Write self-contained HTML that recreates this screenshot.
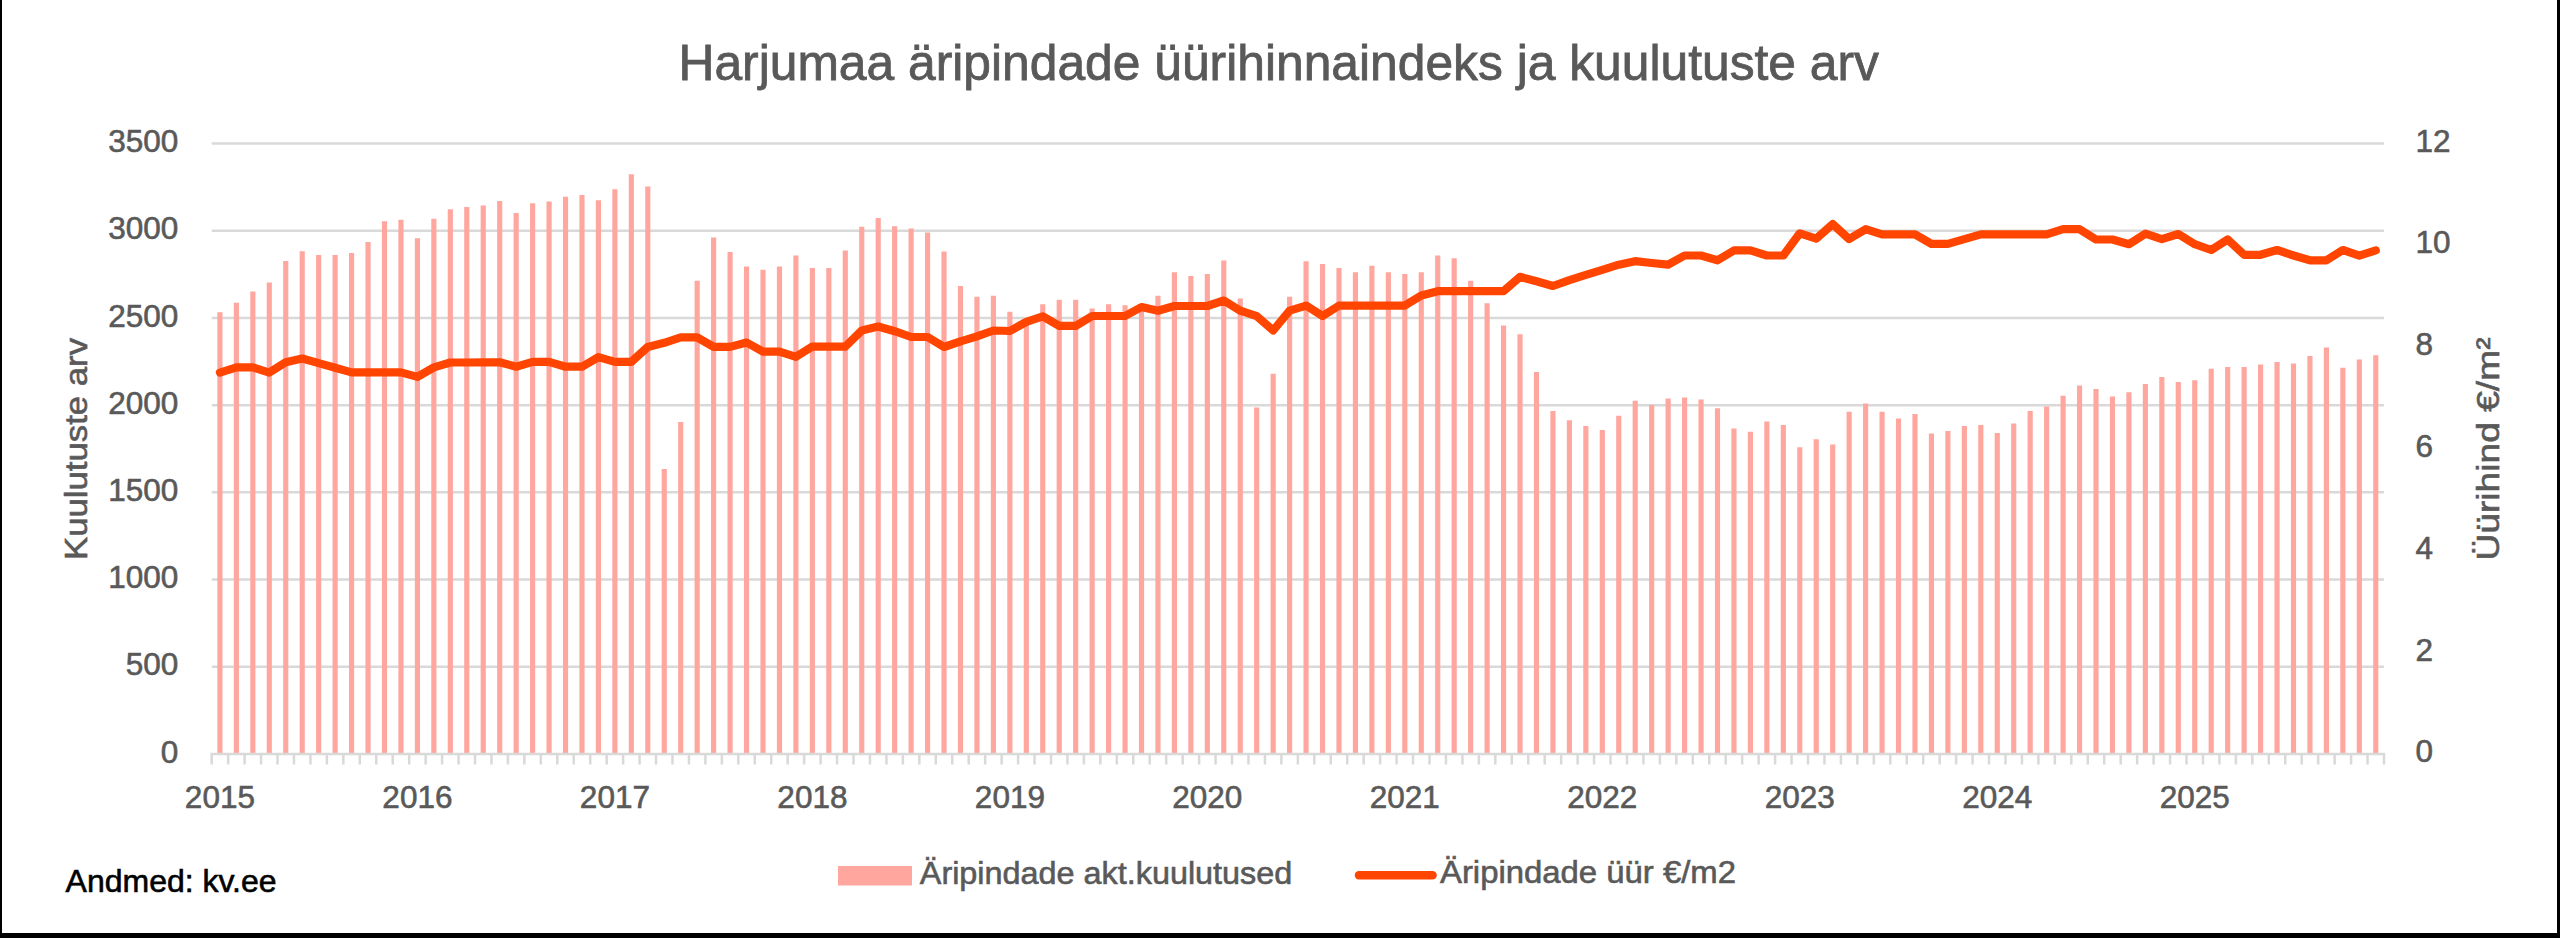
<!DOCTYPE html>
<html><head><meta charset="utf-8"><style>
html,body{margin:0;padding:0;background:#fff;}
body{width:2560px;height:938px;overflow:hidden;position:relative;}
svg{position:absolute;left:0;top:0;}
text{font-family:"Liberation Sans", sans-serif;} .t{stroke-width:1;}
</style></head><body>
<svg width="2560" height="938" viewBox="0 0 2560 938">
<rect x="0" y="0" width="2560" height="938" fill="#fff"/>

<line x1="211.7" y1="143.50" x2="2384.0" y2="143.50" stroke="#D9D9D9" stroke-width="2.5"/>
<line x1="211.7" y1="230.71" x2="2384.0" y2="230.71" stroke="#D9D9D9" stroke-width="2.5"/>
<line x1="211.7" y1="317.93" x2="2384.0" y2="317.93" stroke="#D9D9D9" stroke-width="2.5"/>
<line x1="211.7" y1="405.14" x2="2384.0" y2="405.14" stroke="#D9D9D9" stroke-width="2.5"/>
<line x1="211.7" y1="492.36" x2="2384.0" y2="492.36" stroke="#D9D9D9" stroke-width="2.5"/>
<line x1="211.7" y1="579.57" x2="2384.0" y2="579.57" stroke="#D9D9D9" stroke-width="2.5"/>
<line x1="211.7" y1="666.79" x2="2384.0" y2="666.79" stroke="#D9D9D9" stroke-width="2.5"/>
<path d="M217.35 312.2H222.50V753H217.35ZM233.81 302.7H238.96V753H233.81ZM250.27 291.6H255.42V753H250.27ZM266.72 282.4H271.87V753H266.72ZM283.18 260.9H288.33V753H283.18ZM299.64 251.3H304.79V753H299.64ZM316.09 254.9H321.24V753H316.09ZM332.55 254.9H337.70V753H332.55ZM349.01 253.1H354.16V753H349.01ZM365.46 242.1H370.61V753H365.46ZM381.92 221.2H387.07V753H381.92ZM398.38 219.7H403.53V753H398.38ZM414.84 238.2H419.99V753H414.84ZM431.29 218.8H436.44V753H431.29ZM447.75 209.3H452.90V753H447.75ZM464.21 206.9H469.36V753H464.21ZM480.66 205.4H485.81V753H480.66ZM497.12 200.9H502.27V753H497.12ZM513.58 212.9H518.73V753H513.58ZM530.03 203.3H535.18V753H530.03ZM546.49 201.6H551.64V753H546.49ZM562.95 196.8H568.10V753H562.95ZM579.40 195.1H584.55V753H579.40ZM595.86 200.2H601.01V753H595.86ZM612.32 189.3H617.47V753H612.32ZM628.77 174.3H633.92V753H628.77ZM645.23 186.6H650.38V753H645.23ZM661.69 469.0H666.84V753H661.69ZM678.14 421.9H683.29V753H678.14ZM694.60 280.7H699.75V753H694.60ZM711.06 237.4H716.21V753H711.06ZM727.51 252.1H732.66V753H727.51ZM743.97 266.4H749.12V753H743.97ZM760.43 269.8H765.58V753H760.43ZM776.89 266.4H782.04V753H776.89ZM793.34 255.5H798.49V753H793.34ZM809.80 268.1H814.95V753H809.80ZM826.26 268.1H831.41V753H826.26ZM842.71 250.4H847.86V753H842.71ZM859.17 226.8H864.32V753H859.17ZM875.63 218.0H880.78V753H875.63ZM892.08 226.2H897.23V753H892.08ZM908.54 228.6H913.69V753H908.54ZM925.00 232.6H930.15V753H925.00ZM941.45 251.4H946.60V753H941.45ZM957.91 285.9H963.06V753H957.91ZM974.37 296.8H979.52V753H974.37ZM990.82 295.7H995.97V753H990.82ZM1007.28 311.8H1012.43V753H1007.28ZM1023.74 320.0H1028.89V753H1023.74ZM1040.19 304.3H1045.34V753H1040.19ZM1056.65 299.8H1061.80V753H1056.65ZM1073.11 299.8H1078.26V753H1073.11ZM1089.56 308.4H1094.71V753H1089.56ZM1106.02 304.3H1111.17V753H1106.02ZM1122.48 305.3H1127.63V753H1122.48ZM1138.94 306.0H1144.09V753H1138.94ZM1155.39 295.7H1160.54V753H1155.39ZM1171.85 272.2H1177.00V753H1171.85ZM1188.31 276.0H1193.46V753H1188.31ZM1204.76 273.9H1209.91V753H1204.76ZM1221.22 260.6H1226.37V753H1221.22ZM1237.68 298.5H1242.83V753H1237.68ZM1254.13 407.6H1259.28V753H1254.13ZM1270.59 373.8H1275.74V753H1270.59ZM1287.05 296.8H1292.20V753H1287.05ZM1303.50 261.3H1308.65V753H1303.50ZM1319.96 264.0H1325.11V753H1319.96ZM1336.42 268.1H1341.57V753H1336.42ZM1352.87 272.2H1358.02V753H1352.87ZM1369.33 265.7H1374.48V753H1369.33ZM1385.79 272.2H1390.94V753H1385.79ZM1402.24 273.9H1407.39V753H1402.24ZM1418.70 272.2H1423.85V753H1418.70ZM1435.16 255.5H1440.31V753H1435.16ZM1451.61 258.2H1456.76V753H1451.61ZM1468.07 280.7H1473.22V753H1468.07ZM1484.53 303.2H1489.68V753H1484.53ZM1500.99 325.4H1506.14V753H1500.99ZM1517.44 334.3H1522.59V753H1517.44ZM1533.90 372.1H1539.05V753H1533.90ZM1550.36 411.0H1555.51V753H1550.36ZM1566.81 420.2H1571.96V753H1566.81ZM1583.27 426.0H1588.42V753H1583.27ZM1599.73 430.1H1604.88V753H1599.73ZM1616.18 415.8H1621.33V753H1616.18ZM1632.64 400.8H1637.79V753H1632.64ZM1649.10 404.9H1654.25V753H1649.10ZM1665.55 398.4H1670.70V753H1665.55ZM1682.01 397.4H1687.16V753H1682.01ZM1698.47 399.4H1703.62V753H1698.47ZM1714.92 408.3H1720.07V753H1714.92ZM1731.38 428.4H1736.53V753H1731.38ZM1747.84 431.8H1752.99V753H1747.84ZM1764.29 421.6H1769.44V753H1764.29ZM1780.75 425.0H1785.90V753H1780.75ZM1797.21 447.2H1802.36V753H1797.21ZM1813.66 439.3H1818.81V753H1813.66ZM1830.12 444.4H1835.27V753H1830.12ZM1846.58 411.7H1851.73V753H1846.58ZM1863.04 403.5H1868.19V753H1863.04ZM1879.49 411.7H1884.64V753H1879.49ZM1895.95 418.5H1901.10V753H1895.95ZM1912.41 414.1H1917.56V753H1912.41ZM1928.86 433.5H1934.01V753H1928.86ZM1945.32 431.1H1950.47V753H1945.32ZM1961.78 426.0H1966.93V753H1961.78ZM1978.23 425.0H1983.38V753H1978.23ZM1994.69 432.9H1999.84V753H1994.69ZM2011.15 423.6H2016.30V753H2011.15ZM2027.60 411.0H2032.75V753H2027.60ZM2044.06 406.6H2049.21V753H2044.06ZM2060.52 395.7H2065.67V753H2060.52ZM2076.97 385.4H2082.12V753H2076.97ZM2093.43 388.9H2098.58V753H2093.43ZM2109.89 396.4H2115.04V753H2109.89ZM2126.34 392.3H2131.49V753H2126.34ZM2142.80 384.1H2147.95V753H2142.80ZM2159.26 376.9H2164.41V753H2159.26ZM2175.71 382.0H2180.86V753H2175.71ZM2192.17 380.3H2197.32V753H2192.17ZM2208.63 368.7H2213.78V753H2208.63ZM2225.09 367.0H2230.24V753H2225.09ZM2241.54 367.0H2246.69V753H2241.54ZM2258.00 364.6H2263.15V753H2258.00ZM2274.46 361.9H2279.61V753H2274.46ZM2290.91 363.6H2296.06V753H2290.91ZM2307.37 356.1H2312.52V753H2307.37ZM2323.83 347.6H2328.98V753H2323.83ZM2340.28 367.7H2345.43V753H2340.28ZM2356.74 359.5H2361.89V753H2356.74ZM2373.20 355.3H2378.35V753H2373.20Z" fill="#FFA69E"/>
<path d="M210.45 754.0H2385.25M211.70 752.75V764.4M228.16 752.75V764.4M244.61 752.75V764.4M261.07 752.75V764.4M277.53 752.75V764.4M293.98 752.75V764.4M310.44 752.75V764.4M326.90 752.75V764.4M343.35 752.75V764.4M359.81 752.75V764.4M376.27 752.75V764.4M392.73 752.75V764.4M409.18 752.75V764.4M425.64 752.75V764.4M442.10 752.75V764.4M458.55 752.75V764.4M475.01 752.75V764.4M491.47 752.75V764.4M507.92 752.75V764.4M524.38 752.75V764.4M540.84 752.75V764.4M557.29 752.75V764.4M573.75 752.75V764.4M590.21 752.75V764.4M606.66 752.75V764.4M623.12 752.75V764.4M639.58 752.75V764.4M656.03 752.75V764.4M672.49 752.75V764.4M688.95 752.75V764.4M705.40 752.75V764.4M721.86 752.75V764.4M738.32 752.75V764.4M754.78 752.75V764.4M771.23 752.75V764.4M787.69 752.75V764.4M804.15 752.75V764.4M820.60 752.75V764.4M837.06 752.75V764.4M853.52 752.75V764.4M869.97 752.75V764.4M886.43 752.75V764.4M902.89 752.75V764.4M919.34 752.75V764.4M935.80 752.75V764.4M952.26 752.75V764.4M968.71 752.75V764.4M985.17 752.75V764.4M1001.63 752.75V764.4M1018.08 752.75V764.4M1034.54 752.75V764.4M1051.00 752.75V764.4M1067.45 752.75V764.4M1083.91 752.75V764.4M1100.37 752.75V764.4M1116.83 752.75V764.4M1133.28 752.75V764.4M1149.74 752.75V764.4M1166.20 752.75V764.4M1182.65 752.75V764.4M1199.11 752.75V764.4M1215.57 752.75V764.4M1232.02 752.75V764.4M1248.48 752.75V764.4M1264.94 752.75V764.4M1281.39 752.75V764.4M1297.85 752.75V764.4M1314.31 752.75V764.4M1330.76 752.75V764.4M1347.22 752.75V764.4M1363.68 752.75V764.4M1380.13 752.75V764.4M1396.59 752.75V764.4M1413.05 752.75V764.4M1429.50 752.75V764.4M1445.96 752.75V764.4M1462.42 752.75V764.4M1478.88 752.75V764.4M1495.33 752.75V764.4M1511.79 752.75V764.4M1528.25 752.75V764.4M1544.70 752.75V764.4M1561.16 752.75V764.4M1577.62 752.75V764.4M1594.07 752.75V764.4M1610.53 752.75V764.4M1626.99 752.75V764.4M1643.44 752.75V764.4M1659.90 752.75V764.4M1676.36 752.75V764.4M1692.81 752.75V764.4M1709.27 752.75V764.4M1725.73 752.75V764.4M1742.18 752.75V764.4M1758.64 752.75V764.4M1775.10 752.75V764.4M1791.55 752.75V764.4M1808.01 752.75V764.4M1824.47 752.75V764.4M1840.92 752.75V764.4M1857.38 752.75V764.4M1873.84 752.75V764.4M1890.30 752.75V764.4M1906.75 752.75V764.4M1923.21 752.75V764.4M1939.67 752.75V764.4M1956.12 752.75V764.4M1972.58 752.75V764.4M1989.04 752.75V764.4M2005.49 752.75V764.4M2021.95 752.75V764.4M2038.41 752.75V764.4M2054.86 752.75V764.4M2071.32 752.75V764.4M2087.78 752.75V764.4M2104.23 752.75V764.4M2120.69 752.75V764.4M2137.15 752.75V764.4M2153.60 752.75V764.4M2170.06 752.75V764.4M2186.52 752.75V764.4M2202.97 752.75V764.4M2219.43 752.75V764.4M2235.89 752.75V764.4M2252.35 752.75V764.4M2268.80 752.75V764.4M2285.26 752.75V764.4M2301.72 752.75V764.4M2318.17 752.75V764.4M2334.63 752.75V764.4M2351.09 752.75V764.4M2367.54 752.75V764.4M2384.00 752.75V764.4" stroke="#D9D9D9" stroke-width="2.5" fill="none" stroke-linecap="butt"/>
<polyline points="219.93,372.6 236.39,367.4 252.84,367.4 269.30,372.6 285.76,362.3 302.21,358.5 318.67,363.1 335.13,367.7 351.58,372.4 368.04,372.4 384.50,372.4 400.95,372.4 417.41,376.9 433.87,367.4 450.32,362.5 466.78,362.5 483.24,362.3 499.69,362.3 516.15,366.7 532.61,361.9 549.06,361.9 565.52,366.7 581.98,366.7 598.44,357.1 614.89,361.9 631.35,361.9 647.81,346.9 664.26,342.8 680.72,337.4 697.18,337.4 713.63,346.9 730.09,346.9 746.55,342.5 763.00,351.7 779.46,351.7 795.92,356.8 812.37,346.6 828.83,346.6 845.29,346.6 861.74,330.5 878.20,326.5 894.66,331.2 911.11,337.0 927.57,337.0 944.03,347.0 960.49,341.4 976.94,336.3 993.40,330.5 1009.86,331.0 1026.31,321.8 1042.77,316.4 1059.23,325.9 1075.68,325.9 1092.14,316.0 1108.60,316.0 1125.05,316.0 1141.51,307.0 1157.97,310.7 1174.42,306.0 1190.88,306.0 1207.34,306.0 1223.79,300.5 1240.25,310.7 1256.71,316.2 1273.16,330.5 1289.62,310.7 1306.08,305.6 1322.54,315.9 1338.99,305.6 1355.45,305.6 1371.91,305.6 1388.36,305.6 1404.82,305.6 1421.28,295.5 1437.73,291.2 1454.19,291.2 1470.65,291.2 1487.10,291.2 1503.56,291.2 1520.02,276.8 1536.47,281.3 1552.93,286.0 1569.39,280.1 1585.84,274.9 1602.30,269.8 1618.76,264.7 1635.21,261.2 1651.67,263.0 1668.13,264.7 1684.59,255.5 1701.04,255.5 1717.50,260.3 1733.96,250.4 1750.41,250.4 1766.87,255.5 1783.33,255.5 1799.78,233.3 1816.24,238.6 1832.70,224.1 1849.15,239.1 1865.61,229.2 1882.07,234.4 1898.52,234.4 1914.98,234.4 1931.44,243.9 1947.89,243.9 1964.35,239.1 1980.81,234.4 1997.26,234.4 2013.72,234.4 2030.18,234.4 2046.64,234.4 2063.09,229.2 2079.55,229.2 2096.01,239.5 2112.46,239.5 2128.92,244.2 2145.38,233.7 2161.83,239.1 2178.29,234.0 2194.75,244.2 2211.20,250.0 2227.66,239.5 2244.12,254.8 2260.57,254.8 2277.03,250.0 2293.49,255.5 2309.94,260.3 2326.40,260.3 2342.86,250.0 2359.31,255.6 2375.77,250.4" fill="none" stroke="#FF4500" stroke-width="8.2" stroke-linejoin="round" stroke-linecap="round"/>
<text x="678.5" y="80" font-size="50" fill="#595959" stroke="#595959" stroke-width="0.8" textLength="1200.5" lengthAdjust="spacingAndGlyphs">Harjumaa äripindade üürihinnaindeks ja kuulutuste arv</text>
<text x="178.4" y="152.1" font-size="31.5" fill="#595959" stroke="#595959" stroke-width="0.6" text-anchor="end">3500</text>
<text x="178.4" y="239.3" font-size="31.5" fill="#595959" stroke="#595959" stroke-width="0.6" text-anchor="end">3000</text>
<text x="178.4" y="326.5" font-size="31.5" fill="#595959" stroke="#595959" stroke-width="0.6" text-anchor="end">2500</text>
<text x="178.4" y="413.7" font-size="31.5" fill="#595959" stroke="#595959" stroke-width="0.6" text-anchor="end">2000</text>
<text x="178.4" y="501.0" font-size="31.5" fill="#595959" stroke="#595959" stroke-width="0.6" text-anchor="end">1500</text>
<text x="178.4" y="588.2" font-size="31.5" fill="#595959" stroke="#595959" stroke-width="0.6" text-anchor="end">1000</text>
<text x="178.4" y="675.4" font-size="31.5" fill="#595959" stroke="#595959" stroke-width="0.6" text-anchor="end">500</text>
<text x="178.4" y="762.6" font-size="31.5" fill="#595959" stroke="#595959" stroke-width="0.6" text-anchor="end">0</text>
<text x="2415.5" y="151.7" font-size="31.5" fill="#595959" stroke="#595959" stroke-width="0.6">12</text>
<text x="2415.5" y="253.4" font-size="31.5" fill="#595959" stroke="#595959" stroke-width="0.6">10</text>
<text x="2415.5" y="355.2" font-size="31.5" fill="#595959" stroke="#595959" stroke-width="0.6">8</text>
<text x="2415.5" y="456.9" font-size="31.5" fill="#595959" stroke="#595959" stroke-width="0.6">6</text>
<text x="2415.5" y="558.7" font-size="31.5" fill="#595959" stroke="#595959" stroke-width="0.6">4</text>
<text x="2415.5" y="660.5" font-size="31.5" fill="#595959" stroke="#595959" stroke-width="0.6">2</text>
<text x="2415.5" y="762.2" font-size="31.5" fill="#595959" stroke="#595959" stroke-width="0.6">0</text>
<text x="219.9" y="808.2" font-size="31.5" fill="#595959" stroke="#595959" stroke-width="0.6" text-anchor="middle">2015</text>
<text x="417.4" y="808.2" font-size="31.5" fill="#595959" stroke="#595959" stroke-width="0.6" text-anchor="middle">2016</text>
<text x="614.9" y="808.2" font-size="31.5" fill="#595959" stroke="#595959" stroke-width="0.6" text-anchor="middle">2017</text>
<text x="812.4" y="808.2" font-size="31.5" fill="#595959" stroke="#595959" stroke-width="0.6" text-anchor="middle">2018</text>
<text x="1009.9" y="808.2" font-size="31.5" fill="#595959" stroke="#595959" stroke-width="0.6" text-anchor="middle">2019</text>
<text x="1207.3" y="808.2" font-size="31.5" fill="#595959" stroke="#595959" stroke-width="0.6" text-anchor="middle">2020</text>
<text x="1404.8" y="808.2" font-size="31.5" fill="#595959" stroke="#595959" stroke-width="0.6" text-anchor="middle">2021</text>
<text x="1602.3" y="808.2" font-size="31.5" fill="#595959" stroke="#595959" stroke-width="0.6" text-anchor="middle">2022</text>
<text x="1799.8" y="808.2" font-size="31.5" fill="#595959" stroke="#595959" stroke-width="0.6" text-anchor="middle">2023</text>
<text x="1997.3" y="808.2" font-size="31.5" fill="#595959" stroke="#595959" stroke-width="0.6" text-anchor="middle">2024</text>
<text x="2194.7" y="808.2" font-size="31.5" fill="#595959" stroke="#595959" stroke-width="0.6" text-anchor="middle">2025</text>
<text transform="translate(86.9,560) rotate(-90)" x="0" y="0" font-size="31.5" fill="#595959" stroke="#595959" stroke-width="0.6" textLength="222" lengthAdjust="spacingAndGlyphs">Kuulutuste arv</text>
<text transform="translate(2498.7,560.5) rotate(-90)" x="0" y="0" font-size="31.5" fill="#595959" stroke="#595959" stroke-width="0.6" textLength="223" lengthAdjust="spacingAndGlyphs">Üürihind €/m²</text>
<rect x="838" y="866" width="74" height="19.5" fill="#FFA69E"/>
<text x="919.8" y="883.6" font-size="31.5" fill="#595959" stroke="#595959" stroke-width="0.6" textLength="372.5" lengthAdjust="spacingAndGlyphs">Äripindade akt.kuulutused</text>
<line x1="1359" y1="875.3" x2="1432.5" y2="875.3" stroke="#FF4500" stroke-width="8.5" stroke-linecap="round"/>
<text x="1440" y="883.2" font-size="31.5" fill="#595959" stroke="#595959" stroke-width="0.6" textLength="296" lengthAdjust="spacingAndGlyphs">Äripindade üür €/m2</text>
<text x="65.6" y="892" font-size="31.5" fill="#000" stroke="#000" stroke-width="0.6" textLength="211" lengthAdjust="spacingAndGlyphs">Andmed: kv.ee</text>
<rect x="0" y="0" width="2" height="938" fill="#000"/>
<rect x="2557" y="0" width="3" height="938" fill="#000"/>
<rect x="0" y="933" width="2560" height="5" fill="#000"/>
</svg></body></html>
